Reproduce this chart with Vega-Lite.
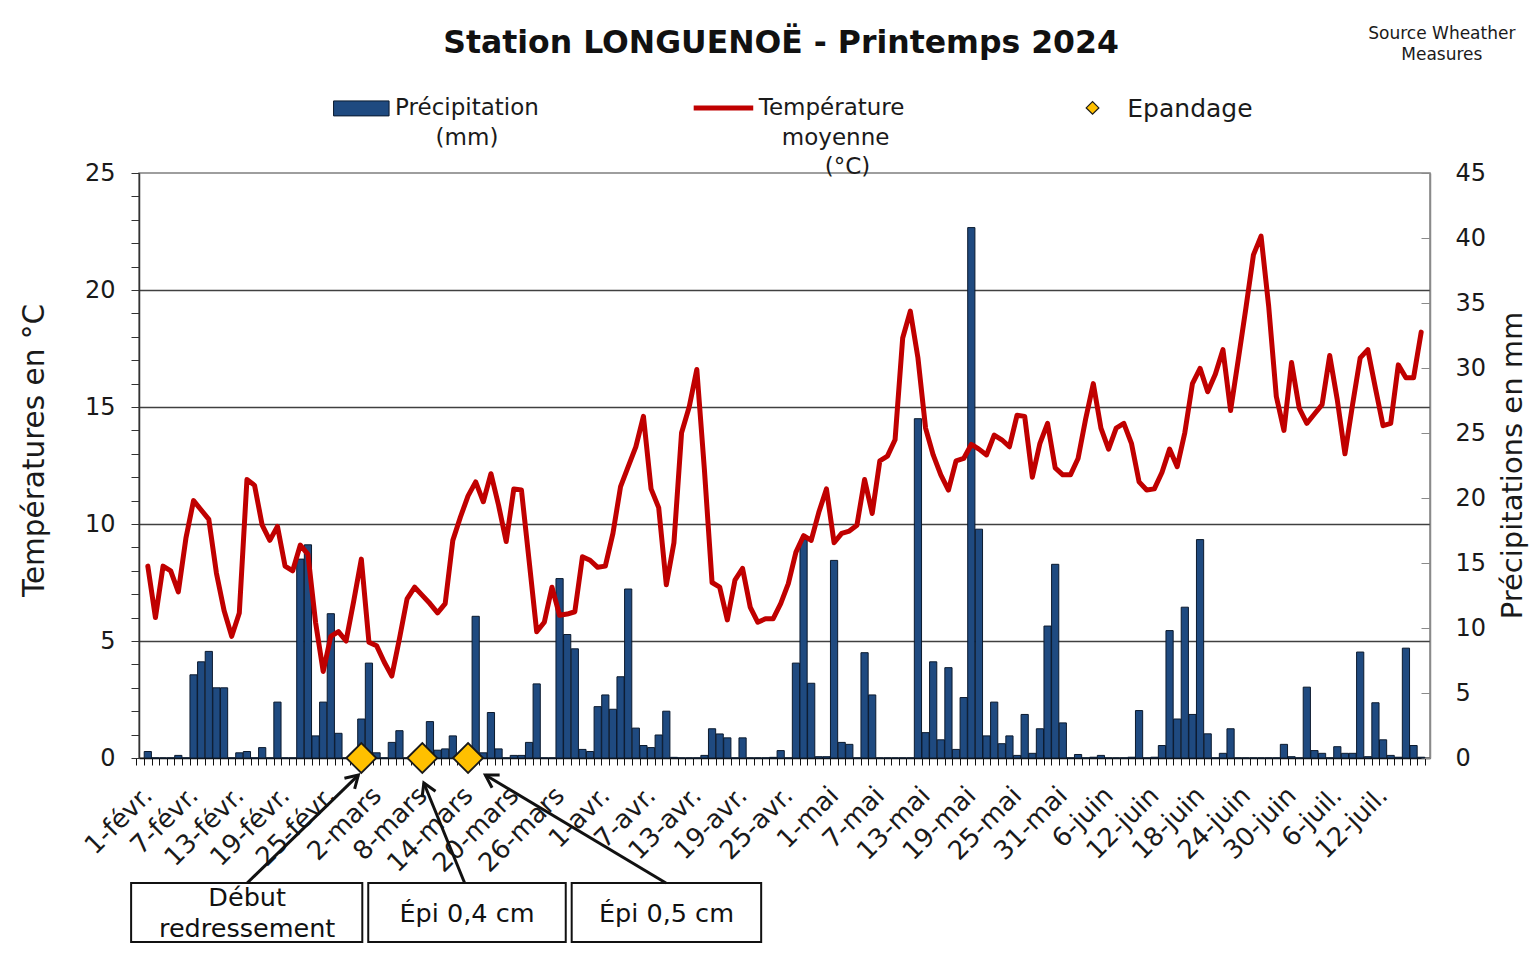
{
  "$schema": "https://vega.github.io/schema/vega-lite/v6.json",
  "width": 1291,
  "height": 585,
  "autosize": {"type": "none"},
  "padding": {"left": 139, "top": 173, "right": 99, "bottom": 196},
  "background": "white",
  "config": {
    "font": "DejaVu Sans",
    "view": {"stroke": "#7f7f7f", "strokeWidth": 1.5},
    "axis": {"labelFont": "DejaVu Sans", "titleFont": "DejaVu Sans", "labelColor": "#1a1a1a", "titleColor": "#1a1a1a", "titleFontWeight": "normal"}
  },
  "data": {"values": [
    {"date":"2024-02-01","i":0,"temp":8.2,"precip":0.5},
    {"date":"2024-02-02","i":1,"temp":6.0,"precip":0},
    {"date":"2024-02-03","i":2,"temp":8.2,"precip":0},
    {"date":"2024-02-04","i":3,"temp":8.0,"precip":0},
    {"date":"2024-02-05","i":4,"temp":7.1,"precip":0.2},
    {"date":"2024-02-06","i":5,"temp":9.4,"precip":0},
    {"date":"2024-02-07","i":6,"temp":11.0,"precip":6.4},
    {"date":"2024-02-08","i":7,"temp":10.6,"precip":7.4},
    {"date":"2024-02-09","i":8,"temp":10.2,"precip":8.2},
    {"date":"2024-02-10","i":9,"temp":7.9,"precip":5.4},
    {"date":"2024-02-11","i":10,"temp":6.3,"precip":5.4},
    {"date":"2024-02-12","i":11,"temp":5.2,"precip":0},
    {"date":"2024-02-13","i":12,"temp":6.2,"precip":0.4},
    {"date":"2024-02-14","i":13,"temp":11.9,"precip":0.5},
    {"date":"2024-02-15","i":14,"temp":11.65,"precip":0},
    {"date":"2024-02-16","i":15,"temp":9.95,"precip":0.8},
    {"date":"2024-02-17","i":16,"temp":9.3,"precip":0},
    {"date":"2024-02-18","i":17,"temp":9.9,"precip":4.3},
    {"date":"2024-02-19","i":18,"temp":8.2,"precip":0},
    {"date":"2024-02-20","i":19,"temp":8.0,"precip":0},
    {"date":"2024-02-21","i":20,"temp":9.1,"precip":15.3},
    {"date":"2024-02-22","i":21,"temp":8.7,"precip":16.4},
    {"date":"2024-02-23","i":22,"temp":5.8,"precip":1.7},
    {"date":"2024-02-24","i":23,"temp":3.7,"precip":4.3},
    {"date":"2024-02-25","i":24,"temp":5.2,"precip":11.1},
    {"date":"2024-02-26","i":25,"temp":5.4,"precip":1.9},
    {"date":"2024-02-27","i":26,"temp":5.0,"precip":0},
    {"date":"2024-02-28","i":27,"temp":6.7,"precip":0},
    {"date":"2024-02-29","i":28,"temp":8.5,"precip":3.0,"epandage":0},
    {"date":"2024-03-01","i":29,"temp":4.95,"precip":7.3},
    {"date":"2024-03-02","i":30,"temp":4.8,"precip":0.4},
    {"date":"2024-03-03","i":31,"temp":4.1,"precip":0},
    {"date":"2024-03-04","i":32,"temp":3.5,"precip":1.2},
    {"date":"2024-03-05","i":33,"temp":5.1,"precip":2.1},
    {"date":"2024-03-06","i":34,"temp":6.8,"precip":0},
    {"date":"2024-03-07","i":35,"temp":7.3,"precip":0},
    {"date":"2024-03-08","i":36,"temp":6.95,"precip":0,"epandage":0},
    {"date":"2024-03-09","i":37,"temp":6.6,"precip":2.8},
    {"date":"2024-03-10","i":38,"temp":6.2,"precip":0.6},
    {"date":"2024-03-11","i":39,"temp":6.6,"precip":0.7},
    {"date":"2024-03-12","i":40,"temp":9.3,"precip":1.7},
    {"date":"2024-03-13","i":41,"temp":10.3,"precip":0},
    {"date":"2024-03-14","i":42,"temp":11.2,"precip":0,"epandage":0},
    {"date":"2024-03-15","i":43,"temp":11.8,"precip":10.9},
    {"date":"2024-03-16","i":44,"temp":10.95,"precip":0.4},
    {"date":"2024-03-17","i":45,"temp":12.15,"precip":3.5},
    {"date":"2024-03-18","i":46,"temp":10.8,"precip":0.7},
    {"date":"2024-03-19","i":47,"temp":9.25,"precip":0},
    {"date":"2024-03-20","i":48,"temp":11.5,"precip":0.2},
    {"date":"2024-03-21","i":49,"temp":11.45,"precip":0.2},
    {"date":"2024-03-22","i":50,"temp":8.45,"precip":1.2},
    {"date":"2024-03-23","i":51,"temp":5.4,"precip":5.7},
    {"date":"2024-03-24","i":52,"temp":5.8,"precip":0},
    {"date":"2024-03-25","i":53,"temp":7.3,"precip":0},
    {"date":"2024-03-26","i":54,"temp":6.1,"precip":13.8},
    {"date":"2024-03-27","i":55,"temp":6.15,"precip":9.5},
    {"date":"2024-03-28","i":56,"temp":6.25,"precip":8.4},
    {"date":"2024-03-29","i":57,"temp":8.6,"precip":0.66},
    {"date":"2024-03-30","i":58,"temp":8.45,"precip":0.5},
    {"date":"2024-03-31","i":59,"temp":8.15,"precip":3.95},
    {"date":"2024-04-01","i":60,"temp":8.2,"precip":4.85},
    {"date":"2024-04-02","i":61,"temp":9.6,"precip":3.75},
    {"date":"2024-04-03","i":62,"temp":11.6,"precip":6.25},
    {"date":"2024-04-04","i":63,"temp":12.45,"precip":13.0},
    {"date":"2024-04-05","i":64,"temp":13.3,"precip":2.3},
    {"date":"2024-04-06","i":65,"temp":14.6,"precip":0.96},
    {"date":"2024-04-07","i":66,"temp":11.5,"precip":0.8},
    {"date":"2024-04-08","i":67,"temp":10.7,"precip":1.77},
    {"date":"2024-04-09","i":68,"temp":7.4,"precip":3.6},
    {"date":"2024-04-10","i":69,"temp":9.2,"precip":0.05},
    {"date":"2024-04-11","i":70,"temp":13.9,"precip":0},
    {"date":"2024-04-12","i":71,"temp":15.0,"precip":0},
    {"date":"2024-04-13","i":72,"temp":16.6,"precip":0},
    {"date":"2024-04-14","i":73,"temp":12.3,"precip":0.2},
    {"date":"2024-04-15","i":74,"temp":7.5,"precip":2.25},
    {"date":"2024-04-16","i":75,"temp":7.3,"precip":1.85},
    {"date":"2024-04-17","i":76,"temp":5.9,"precip":1.55},
    {"date":"2024-04-18","i":77,"temp":7.6,"precip":0},
    {"date":"2024-04-19","i":78,"temp":8.1,"precip":1.55},
    {"date":"2024-04-20","i":79,"temp":6.45,"precip":0},
    {"date":"2024-04-21","i":80,"temp":5.8,"precip":0},
    {"date":"2024-04-22","i":81,"temp":5.95,"precip":0},
    {"date":"2024-04-23","i":82,"temp":5.95,"precip":0.05},
    {"date":"2024-04-24","i":83,"temp":6.6,"precip":0.57},
    {"date":"2024-04-25","i":84,"temp":7.45,"precip":0},
    {"date":"2024-04-26","i":85,"temp":8.8,"precip":7.3},
    {"date":"2024-04-27","i":86,"temp":9.5,"precip":16.8},
    {"date":"2024-04-28","i":87,"temp":9.3,"precip":5.75},
    {"date":"2024-04-29","i":88,"temp":10.5,"precip":0.1},
    {"date":"2024-04-30","i":89,"temp":11.5,"precip":0.1},
    {"date":"2024-05-01","i":90,"temp":9.2,"precip":15.2},
    {"date":"2024-05-02","i":91,"temp":9.6,"precip":1.2},
    {"date":"2024-05-03","i":92,"temp":9.7,"precip":1.05},
    {"date":"2024-05-04","i":93,"temp":9.95,"precip":0},
    {"date":"2024-05-05","i":94,"temp":11.9,"precip":8.1},
    {"date":"2024-05-06","i":95,"temp":10.45,"precip":4.85},
    {"date":"2024-05-07","i":96,"temp":12.7,"precip":0},
    {"date":"2024-05-08","i":97,"temp":12.9,"precip":0},
    {"date":"2024-05-09","i":98,"temp":13.6,"precip":0},
    {"date":"2024-05-10","i":99,"temp":17.95,"precip":0},
    {"date":"2024-05-11","i":100,"temp":19.1,"precip":0},
    {"date":"2024-05-12","i":101,"temp":17.1,"precip":26.1},
    {"date":"2024-05-13","i":102,"temp":14.1,"precip":1.95},
    {"date":"2024-05-14","i":103,"temp":12.95,"precip":7.4},
    {"date":"2024-05-15","i":104,"temp":12.1,"precip":1.4},
    {"date":"2024-05-16","i":105,"temp":11.45,"precip":6.95},
    {"date":"2024-05-17","i":106,"temp":12.7,"precip":0.66},
    {"date":"2024-05-18","i":107,"temp":12.8,"precip":4.65},
    {"date":"2024-05-19","i":108,"temp":13.4,"precip":40.8},
    {"date":"2024-05-20","i":109,"temp":13.2,"precip":17.6},
    {"date":"2024-05-21","i":110,"temp":12.95,"precip":1.7},
    {"date":"2024-05-22","i":111,"temp":13.8,"precip":4.3},
    {"date":"2024-05-23","i":112,"temp":13.6,"precip":1.1},
    {"date":"2024-05-24","i":113,"temp":13.3,"precip":1.7},
    {"date":"2024-05-25","i":114,"temp":14.65,"precip":0.2},
    {"date":"2024-05-26","i":115,"temp":14.6,"precip":3.35},
    {"date":"2024-05-27","i":116,"temp":12.0,"precip":0.36},
    {"date":"2024-05-28","i":117,"temp":13.45,"precip":2.25},
    {"date":"2024-05-29","i":118,"temp":14.3,"precip":10.15},
    {"date":"2024-05-30","i":119,"temp":12.4,"precip":14.9},
    {"date":"2024-05-31","i":120,"temp":12.1,"precip":2.7},
    {"date":"2024-06-01","i":121,"temp":12.1,"precip":0},
    {"date":"2024-06-02","i":122,"temp":12.8,"precip":0.27},
    {"date":"2024-06-03","i":123,"temp":14.5,"precip":0},
    {"date":"2024-06-04","i":124,"temp":16.0,"precip":0.06},
    {"date":"2024-06-05","i":125,"temp":14.1,"precip":0.2},
    {"date":"2024-06-06","i":126,"temp":13.2,"precip":0},
    {"date":"2024-06-07","i":127,"temp":14.1,"precip":0},
    {"date":"2024-06-08","i":128,"temp":14.3,"precip":0},
    {"date":"2024-06-09","i":129,"temp":13.45,"precip":0.06},
    {"date":"2024-06-10","i":130,"temp":11.8,"precip":3.65},
    {"date":"2024-06-11","i":131,"temp":11.45,"precip":0},
    {"date":"2024-06-12","i":132,"temp":11.5,"precip":0.06},
    {"date":"2024-06-13","i":133,"temp":12.2,"precip":0.96},
    {"date":"2024-06-14","i":134,"temp":13.2,"precip":9.8},
    {"date":"2024-06-15","i":135,"temp":12.45,"precip":3.0},
    {"date":"2024-06-16","i":136,"temp":13.9,"precip":11.6},
    {"date":"2024-06-17","i":137,"temp":16.0,"precip":3.35},
    {"date":"2024-06-18","i":138,"temp":16.65,"precip":16.8},
    {"date":"2024-06-19","i":139,"temp":15.65,"precip":1.86},
    {"date":"2024-06-20","i":140,"temp":16.4,"precip":0},
    {"date":"2024-06-21","i":141,"temp":17.45,"precip":0.36},
    {"date":"2024-06-22","i":142,"temp":14.85,"precip":2.25},
    {"date":"2024-06-23","i":143,"temp":17.0,"precip":0},
    {"date":"2024-06-24","i":144,"temp":19.2,"precip":0},
    {"date":"2024-06-25","i":145,"temp":21.5,"precip":0},
    {"date":"2024-06-26","i":146,"temp":22.3,"precip":0},
    {"date":"2024-06-27","i":147,"temp":19.3,"precip":0},
    {"date":"2024-06-28","i":148,"temp":15.45,"precip":0},
    {"date":"2024-06-29","i":149,"temp":14.0,"precip":1.05},
    {"date":"2024-06-30","i":150,"temp":16.9,"precip":0.1},
    {"date":"2024-07-01","i":151,"temp":14.95,"precip":0},
    {"date":"2024-07-02","i":152,"temp":14.3,"precip":5.45},
    {"date":"2024-07-03","i":153,"temp":14.7,"precip":0.57},
    {"date":"2024-07-04","i":154,"temp":15.1,"precip":0.36},
    {"date":"2024-07-05","i":155,"temp":17.2,"precip":0},
    {"date":"2024-07-06","i":156,"temp":15.3,"precip":0.87},
    {"date":"2024-07-07","i":157,"temp":13.0,"precip":0.36},
    {"date":"2024-07-08","i":158,"temp":15.1,"precip":0.36},
    {"date":"2024-07-09","i":159,"temp":17.1,"precip":8.15},
    {"date":"2024-07-10","i":160,"temp":17.45,"precip":0.1},
    {"date":"2024-07-11","i":161,"temp":15.8,"precip":4.25},
    {"date":"2024-07-12","i":162,"temp":14.2,"precip":1.4},
    {"date":"2024-07-13","i":163,"temp":14.3,"precip":0.2},
    {"date":"2024-07-14","i":164,"temp":16.8,"precip":0.06},
    {"date":"2024-07-15","i":165,"temp":16.25,"precip":8.45},
    {"date":"2024-07-16","i":166,"temp":16.25,"precip":0.96},
    {"date":"2024-07-17","i":167,"temp":18.2,"precip":0.06}
  ]},
  "layer": [
    {
      "mark": {"type": "bar", "orient": "vertical", "width": 7.2, "fill": "#1F4A80", "stroke": "#0b1a2e", "strokeWidth": 1},
      "encoding": {
        "x": {
          "field": "i", "type": "quantitative",
          "scale": {"domain": [-0.5, 167.5], "nice": false, "zero": false},
          "axis": {
            "title": null,
            "tickCount": 168,
            "labelExpr": "datum.value % 6 === 0 ? ['1-févr.','7-févr.','13-févr.','19-févr.','25-févr.','2-mars','8-mars','14-mars','20-mars','26-mars','1-avr.','7-avr.','13-avr.','19-avr.','25-avr.','1-mai','7-mai','13-mai','19-mai','25-mai','31-mai','6-juin','12-juin','18-juin','24-juin','30-juin','6-juil.','12-juil.'][datum.value / 6] : ''",
            "labelAngle": -45, "labelAlign": "right", "labelBaseline": "middle",
            "labelFontSize": 26, "labelPadding": 26, "labelOverlap": false, "labelFlush": false,
            "tickSize": 7, "tickColor": "#111", "tickWidth": 1, "tickOffset": -3.84, "labelOffset": 3.84,
            "domainColor": "#111", "domainWidth": 1.5, "grid": false
          }
        },
        "y": {
          "field": "precip", "type": "quantitative",
          "scale": {"domain": [0, 45], "nice": false},
          "axis": {
            "orient": "right", "title": "Précipitations en mm", "titleFontSize": 29,
            "titleAngle": 270, "titleX": 82, "titleY": 292, "titleAlign": "center", "titleBaseline": "middle",
            "values": [0, 5, 10, 15, 20, 25, 30, 35, 40, 45],
            "labelFontSize": 24, "labelPadding": 34, "labelAlign": "left",
            "tickSize": -9, "tickColor": "#8a8a8a", "domainColor": "#8a8a8a", "domainWidth": 1.5, "grid": false
          }
        }
      }
    },
    {
      "mark": {"type": "line", "color": "#C00000", "strokeWidth": 5, "strokeJoin": "round", "strokeCap": "round"},
      "encoding": {
        "x": {"field": "i", "type": "quantitative"},
        "y": {
          "field": "temp", "type": "quantitative",
          "scale": {"domain": [0, 25], "nice": false},
          "axis": {
            "orient": "left", "title": "Températures en °C", "titleFontSize": 29.5,
            "titleAngle": 270, "titleX": -105, "titleY": 277, "titleAlign": "center", "titleBaseline": "middle",
            "values": [0,1,2,3,4,5,6,7,8,9,10,11,12,13,14,15,16,17,18,19,20,21,22,23,24,25],
            "labelExpr": "datum.value % 5 === 0 ? datum.label : ''",
            "labelFontSize": 24, "labelPadding": 16, "labelOverlap": false,
            "tickSize": 8, "tickColor": "#333", "domainColor": "#333", "domainWidth": 1.5,
            "grid": true, "gridColor": "#404040", "gridWidth": 1.3,
            "gridOpacity": {"condition": {"test": "datum.value % 5 === 0 && datum.value > 0 && datum.value < 25", "value": 1}, "value": 0}
          }
        }
      }
    },
    {
      "layer": [
        {
          "mark": {"type": "point", "shape": "diamond", "size": 900, "filled": true, "fill": "#FFC000", "stroke": "#1a1a1a", "strokeWidth": 1.8, "opacity": 1},
          "encoding": {
            "x": {"field": "i", "type": "quantitative"},
            "y": {"field": "epandage", "type": "quantitative", "scale": {"domain": [0, 25], "nice": false}, "axis": null}
          }
        },
        {
          "data": {"values": [{}]},
          "mark": {"type": "rect", "fill": "#1F4A80", "stroke": "#0b1a2e", "strokeWidth": 1},
          "encoding": {
            "x": {"datum": 24.36, "type": "quantitative"}, "x2": {"datum": 31.64},
            "y": {"datum": 28.08, "type": "quantitative", "scale": {"domain": [0, 25], "nice": false}, "axis": null}, "y2": {"datum": 27.44}
          }
        },
        {
          "data": {"values": [{}]},
          "mark": {"type": "rule", "stroke": "#C00000", "strokeWidth": 5},
          "encoding": {
            "x": {"datum": 71.59, "type": "quantitative"}, "x2": {"datum": 79.4},
            "y": {"datum": 27.78, "type": "quantitative", "scale": {"domain": [0, 25], "nice": false}, "axis": null}
          }
        },
        {
          "data": {"values": [{}]},
          "mark": {"type": "point", "shape": "diamond", "size": 160, "filled": true, "fill": "#FFC000", "stroke": "#1a1a1a", "strokeWidth": 1.2, "opacity": 1},
          "encoding": {
            "x": {"datum": 123.9, "type": "quantitative"},
            "y": {"datum": 27.78, "type": "quantitative", "scale": {"domain": [0, 25], "nice": false}, "axis": null}
          }
        },
        {
          "data": {"values": [{}]},
          "mark": {"type": "text", "text": ["Précipitation", "(mm)"], "fontSize": 23, "lineHeight": 30, "align": "center", "baseline": "alphabetic", "color": "#1a1a1a"},
          "encoding": {
            "x": {"datum": 41.86, "type": "quantitative"},
            "y": {"datum": 27.48, "type": "quantitative", "scale": {"domain": [0, 25], "nice": false}, "axis": null}
          }
        },
        {
          "data": {"values": [{}]},
          "mark": {"type": "text", "text": "Température", "fontSize": 23, "align": "center", "baseline": "alphabetic", "color": "#1a1a1a"},
          "encoding": {
            "x": {"datum": 89.68, "type": "quantitative"},
            "y": {"datum": 27.48, "type": "quantitative", "scale": {"domain": [0, 25], "nice": false}, "axis": null}
          }
        },
        {
          "data": {"values": [{}]},
          "mark": {"type": "text", "text": "moyenne", "fontSize": 23, "align": "center", "baseline": "alphabetic", "color": "#1a1a1a"},
          "encoding": {
            "x": {"datum": 90.2, "type": "quantitative"},
            "y": {"datum": 26.2, "type": "quantitative", "scale": {"domain": [0, 25], "nice": false}, "axis": null}
          }
        },
        {
          "data": {"values": [{}]},
          "mark": {"type": "text", "text": "(°C)", "fontSize": 23, "align": "center", "baseline": "alphabetic", "color": "#1a1a1a"},
          "encoding": {
            "x": {"datum": 91.76, "type": "quantitative"},
            "y": {"datum": 24.96, "type": "quantitative", "scale": {"domain": [0, 25], "nice": false}, "axis": null}
          }
        },
        {
          "data": {"values": [{}]},
          "mark": {"type": "text", "text": "Epandage", "fontSize": 25, "align": "left", "baseline": "alphabetic", "color": "#1a1a1a"},
          "encoding": {
            "x": {"datum": 128.46, "type": "quantitative"},
            "y": {"datum": 27.39, "type": "quantitative", "scale": {"domain": [0, 25], "nice": false}, "axis": null}
          }
        },
        {
          "data": {"values": [{}]},
          "mark": {"type": "text", "text": "Station LONGUENOË - Printemps 2024", "fontSize": 31.5, "fontWeight": "bold", "align": "center", "baseline": "alphabetic", "color": "#111"},
          "encoding": {
            "x": {"datum": 83.05, "type": "quantitative"},
            "y": {"datum": 30.13, "type": "quantitative", "scale": {"domain": [0, 25], "nice": false}, "axis": null}
          }
        },
        {
          "data": {"values": [{}]},
          "mark": {"type": "text", "text": ["Source Wheather", "Measures"], "fontSize": 17, "lineHeight": 21, "align": "center", "baseline": "alphabetic", "color": "#1a1a1a"},
          "encoding": {
            "x": {"datum": 169.71, "type": "quantitative"},
            "y": {"datum": 30.73, "type": "quantitative", "scale": {"domain": [0, 25], "nice": false}, "axis": null}
          }
        },
        {
          "data": {"values": [{}]},
          "mark": {"type": "rect", "fill": "white", "stroke": "#111", "strokeWidth": 2},
          "encoding": {
            "x": {"datum": -2.19, "type": "quantitative"}, "x2": {"datum": 28.13},
            "y": {"datum": -5.34, "type": "quantitative", "scale": {"domain": [0, 25], "nice": false}, "axis": null}, "y2": {"datum": -7.86}
          }
        },
        {
          "data": {"values": [{}]},
          "mark": {"type": "rect", "fill": "white", "stroke": "#111", "strokeWidth": 2},
          "encoding": {
            "x": {"datum": 28.91, "type": "quantitative"}, "x2": {"datum": 54.81},
            "y": {"datum": -5.34, "type": "quantitative", "scale": {"domain": [0, 25], "nice": false}, "axis": null}, "y2": {"datum": -7.86}
          }
        },
        {
          "data": {"values": [{}]},
          "mark": {"type": "rect", "fill": "white", "stroke": "#111", "strokeWidth": 2},
          "encoding": {
            "x": {"datum": 55.59, "type": "quantitative"}, "x2": {"datum": 80.44},
            "y": {"datum": -5.34, "type": "quantitative", "scale": {"domain": [0, 25], "nice": false}, "axis": null}, "y2": {"datum": -7.86}
          }
        },
        {
          "data": {"values": [{}]},
          "mark": {"type": "text", "text": ["Début", "redressement"], "fontSize": 25.5, "lineHeight": 31, "align": "center", "baseline": "alphabetic", "color": "#111"},
          "encoding": {
            "x": {"datum": 13.03, "type": "quantitative"},
            "y": {"datum": -6.32, "type": "quantitative", "scale": {"domain": [0, 25], "nice": false}, "axis": null}
          }
        },
        {
          "data": {"values": [{}]},
          "mark": {"type": "text", "text": "Épi 0,4 cm", "fontSize": 25.5, "align": "center", "baseline": "alphabetic", "color": "#111"},
          "encoding": {
            "x": {"datum": 41.86, "type": "quantitative"},
            "y": {"datum": -7.01, "type": "quantitative", "scale": {"domain": [0, 25], "nice": false}, "axis": null}
          }
        },
        {
          "data": {"values": [{}]},
          "mark": {"type": "text", "text": "Épi 0,5 cm", "fontSize": 25.5, "align": "center", "baseline": "alphabetic", "color": "#111"},
          "encoding": {
            "x": {"datum": 68.02, "type": "quantitative"},
            "y": {"datum": -7.01, "type": "quantitative", "scale": {"domain": [0, 25], "nice": false}, "axis": null}
          }
        },
        {
          "data": {"values": [{}]},
          "mark": {"type": "rule", "stroke": "#111", "strokeWidth": 3},
          "encoding": {
            "x": {"datum": 13.03, "type": "quantitative"}, "x2": {"datum": 27.61},
            "y": {"datum": -5.34, "type": "quantitative", "scale": {"domain": [0, 25], "nice": false}, "axis": null}, "y2": {"datum": -0.73}
          }
        },
        {
          "data": {"values": [{}]},
          "mark": {"type": "rule", "stroke": "#111", "strokeWidth": 3},
          "encoding": {
            "x": {"datum": 41.55, "type": "quantitative"}, "x2": {"datum": 36.2},
            "y": {"datum": -5.34, "type": "quantitative", "scale": {"domain": [0, 25], "nice": false}, "axis": null}, "y2": {"datum": -1.07}
          }
        },
        {
          "data": {"values": [{}]},
          "mark": {"type": "rule", "stroke": "#111", "strokeWidth": 3},
          "encoding": {
            "x": {"datum": 67.95, "type": "quantitative"}, "x2": {"datum": 44.27},
            "y": {"datum": -5.34, "type": "quantitative", "scale": {"domain": [0, 25], "nice": false}, "axis": null}, "y2": {"datum": -0.73}
          }
        },
        {
          "data": {"values": [{}]},
          "mark": {"type": "point", "shape": "M -0.6 1 L 0 0 L 0.6 1", "size": 600, "filled": false, "color": "#111", "strokeWidth": 3, "angle": 46, "opacity": 1},
          "encoding": {
            "x": {"datum": 27.61, "type": "quantitative"},
            "y": {"datum": -0.73, "type": "quantitative", "scale": {"domain": [0, 25], "nice": false}, "axis": null}
          }
        },
        {
          "data": {"values": [{}]},
          "mark": {"type": "point", "shape": "M -0.6 1 L 0 0 L 0.6 1", "size": 600, "filled": false, "color": "#111", "strokeWidth": 3, "angle": 336, "opacity": 1},
          "encoding": {
            "x": {"datum": 36.2, "type": "quantitative"},
            "y": {"datum": -1.07, "type": "quantitative", "scale": {"domain": [0, 25], "nice": false}, "axis": null}
          }
        },
        {
          "data": {"values": [{}]},
          "mark": {"type": "point", "shape": "M -0.6 1 L 0 0 L 0.6 1", "size": 600, "filled": false, "color": "#111", "strokeWidth": 3, "angle": 301, "opacity": 1},
          "encoding": {
            "x": {"datum": 44.27, "type": "quantitative"},
            "y": {"datum": -0.73, "type": "quantitative", "scale": {"domain": [0, 25], "nice": false}, "axis": null}
          }
        }
      ]
    }
  ],
  "resolve": {"scale": {"y": "independent"}}
}
